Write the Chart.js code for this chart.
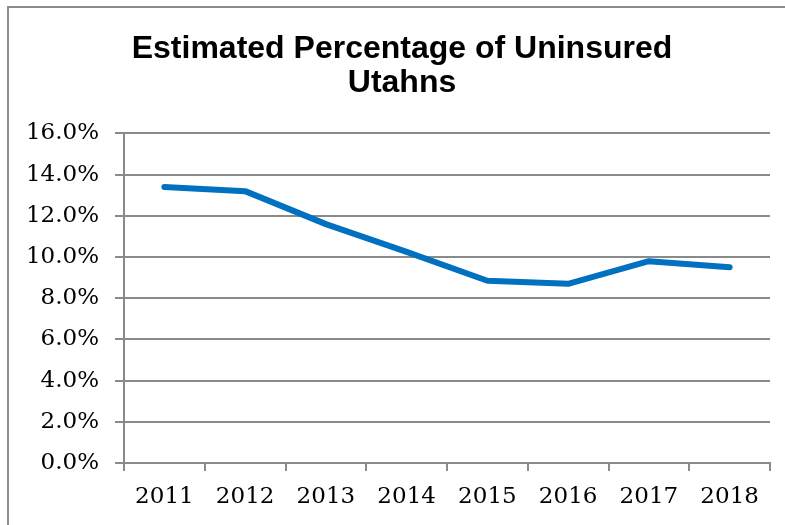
<!DOCTYPE html>
<html>
<head>
<meta charset="utf-8">
<script src="https://cdn.jsdelivr.net/npm/chart.js@4.4.1/dist/chart.umd.min.js"></script>
<style>
  html, body { margin: 0; padding: 0; background: #fff; }
  #wrap { position: relative; width: 785px; height: 525px; }
  #frame { position: absolute; left: 7px; top: 6px; right: 0; bottom: 0; border-left: 2px solid #8c8c8c; border-top: 2px solid #8c8c8c; pointer-events: none; }
</style>
</head>
<body>
<div id="wrap">
  <canvas id="c" width="785" height="525"></canvas>
  <div id="frame"></div>
</div>
<script>
const titleLines = ["Estimated Percentage of Uninsured", "Utahns"];
const years = ["2011", "2012", "2013", "2014", "2015", "2016", "2017", "2018"];
const uninsuredPct = [13.4, 13.2, 11.6, 10.25, 8.85, 8.7, 9.8, 9.5];
const yTicks = [0, 2, 4, 6, 8, 10, 12, 14, 16];

const gridColor = '#8a8a8a';
const tickFont = { family: 'DejaVu Serif', size: 23 };

const shiftTitle = {
  id: 'shiftTitle',
  afterLayout(chart) {
    const t = chart.titleBlock;
    if (t) { t.left = 34; t.width = t.right - t.left; }
  }
};

new Chart(document.getElementById('c'), {
  type: 'line',
  data: {
    labels: years,
    datasets: [{
      data: uninsuredPct,
      borderColor: '#0070C0',
      borderWidth: 6,
      borderCapStyle: 'round',
      borderJoinStyle: 'round',
      pointRadius: 0,
      tension: 0,
      fill: false
    }]
  },
  plugins: [shiftTitle],
  options: {
    responsive: false,
    animation: false,
    layout: { padding: { left: 0, right: 15, top: 0, bottom: 0 } },
    plugins: {
      legend: { display: false },
      tooltip: { enabled: false },
      title: {
        display: true,
        text: titleLines,
        color: '#000',
        font: { family: 'Liberation Sans', size: 32, weight: 'bold', lineHeight: 1.07 },
        padding: { top: 32, bottom: 33 }
      }
    },
    scales: {
      x: {
        type: 'category',
        offset: true,
        grid: { display: true, offset: true, drawOnChartArea: false, drawTicks: true, tickLength: 8, color: gridColor, lineWidth: 2 },
        border: { display: true, color: gridColor, width: 2 },
        ticks: { color: '#000', font: tickFont, padding: 12, maxRotation: 0 },
        afterFit: (s) => { s.height = 62; }
      },
      y: {
        min: 0,
        max: 16,
        afterBuildTicks: (s) => { s.ticks = yTicks.map(v => ({ value: v })); },
        grid: { color: gridColor, lineWidth: 2, drawTicks: true, tickLength: 9 },
        border: { display: true, color: gridColor, width: 2 },
        ticks: { color: '#000', font: tickFont, padding: 16, callback: (v) => Number(v).toFixed(1) + '%' },
        afterFit: (s) => { s.width = 124; }
      }
    }
  }
});
</script>
</body>
</html>
